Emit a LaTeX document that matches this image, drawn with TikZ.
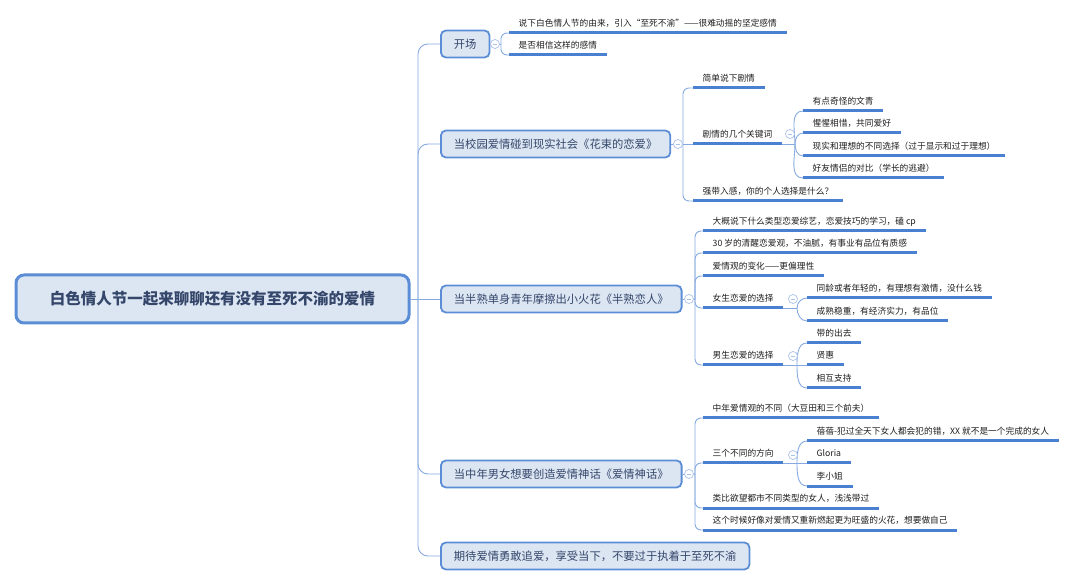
\documentclass[tikz,border=0pt]{standalone}
\usepackage{fontspec}
\setmainfont{Noto Sans CJK SC}
\usepackage{tikz}
\usetikzlibrary{positioning}

\definecolor{boxfill}{HTML}{DCE6F3}
\definecolor{boxline}{HTML}{5B8DD6}
\definecolor{ulinec}{HTML}{4A80D2}
\definecolor{linkc}{HTML}{86AADF}
\definecolor{foldc}{HTML}{A9C2EA}
\definecolor{txt}{HTML}{1E1E1E}
\definecolor{headc}{HTML}{34466A}

\begin{document}
\begin{tikzpicture}
    [
    x=1pt, y=-1pt,
    root/.style={draw=boxline, line width=3pt, fill=boxfill, rounded corners=8pt, minimum width=393pt, minimum height=48pt, font=\fontsize{15.5}{18}\selectfont\bfseries, text=headc},
    topic/.style={draw=boxline, line width=1.8pt, fill=boxfill, rounded corners=5pt, minimum height=27pt, inner xsep=13pt, anchor=west, font=\fontsize{11.3}{13}\selectfont, text=headc},
    uline/.style={draw=ulinec, line width=3pt},
    leaf/.style={anchor=south west, inner xsep=9.5pt, inner ysep=4.5pt, text height=7pt, text depth=1.5pt, font=\fontsize{8.7}{10}\selectfont, text=txt, append after command={(\tikzlastnode.south west) edge [uline] (\tikzlastnode.south east)}},
    link/.style={draw=linkc, line width=0.9pt, rounded corners=6pt},
    trunk/.style={link, rounded corners=10pt},
    fold/.style={circle, draw=foldc, fill=white, line width=0.7pt, minimum size=9pt, inner sep=0pt, path picture={\draw [foldc, line width=0.7pt] ([xshift=-2.3pt]path picture bounding box.center) -- ([xshift=2.3pt]path picture bounding box.center);}}
    ]
    \useasboundingbox (0,0) rectangle (1080,585);

    \node (root) at (212.5,299) [root] {白色情人节一起来聊聊还有没有至死不渝的爱情};

    \node (b1) at (440,44) [topic] {开场};
    \node (b2) at (440,144) [topic] {当校园爱情碰到现实社会《花束的恋爱》};
    \node (b3) at (440,299) [topic] {当半熟单身青年摩擦出小火花《半熟恋人》};
    \node (b4) at (440,474) [topic] {当中年男女想要创造爱情神话《爱情神话》};
    \node (b5) at (440,556) [topic] {期待爱情勇敢追爱，享受当下，不要过于执着于至死不渝};

    \coordinate (j0) at (418,299);
    \coordinate (j1) at (501,44);
    \coordinate (j2) at (683,144);
    \coordinate (j3) at (695,299);
    \coordinate (j4) at (695,474);

    \node (a1) at (509,33) [leaf] {说下白色情人节的由来，引入“至死不渝”——很难动摇的坚定感情};
    \node (a2) at (509,55) [leaf] {是否相信这样的感情};

    \node (c1) at (693,88) [leaf] {简单说下剧情};
    \node (c2) at (693,144) [leaf] {剧情的几个关键词};
    \node (c3) at (693,201) [leaf] {强带入感，你的个人选择是什么？};
    \coordinate (jc2) at (795,144);
    \node (k1) at (803,111) [leaf] {有点奇怪的文青};
    \node (k2) at (803,133) [leaf] {惺惺相惜，共同爱好};
    \node (k3) at (803,156) [leaf] {现实和理想的不同选择（过于显示和过于理想）};
    \node (k4) at (803,178) [leaf] {好友情侣的对比（学长的逃避）};

    \node (d1) at (703,231) [leaf] {大概说下什么类型恋爱综艺，恋爱技巧的学习，磕 cp};
    \node (d2) at (703,253) [leaf] {30 岁的清醒恋爱观，不油腻，有事业有品位有质感};
    \node (d3) at (703,276) [leaf] {爱情观的变化——更偏理性};
    \node (d4) at (703,308) [leaf] {女生恋爱的选择};
    \node (d5) at (703,365) [leaf] {男生恋爱的选择};
    \coordinate (jd4) at (797,308);
    \coordinate (jd5) at (797,365);
    \node (f1) at (807,298) [leaf] {同龄或者年轻的，有理想有激情，没什么钱};
    \node (f2) at (807,321) [leaf] {成熟稳重，有经济实力，有品位};
    \node (m1) at (807,343) [leaf] {带的出去};
    \node (m2) at (807,365) [leaf] {贤惠};
    \node (m3) at (807,388) [leaf] {相互支持};

    \node (e1) at (703,418) [leaf] {中年爱情观的不同（大豆田和三个前夫）};
    \node (e2) at (703,463) [leaf] {三个不同的方向};
    \node (e3) at (703,508) [leaf] {类比欲望都市不同类型的女人，浅浅带过};
    \node (e4) at (703,530) [leaf] {这个时候好像对爱情又重新燃起更为旺盛的火花，想要做自己};
    \coordinate (je2) at (797,463);
    \node (w1) at (807,441) [leaf] {蓓蓓-犯过全天下女人都会犯的错，XX 就不是一个完成的女人};
    \node (w2) at (807,463) [leaf] {Gloria};
    \node (w3) at (807,486) [leaf] {李小姐};

    \draw [link] (root.east) to (j0);
    \draw [trunk] (j0) |- (b1.west);
    \draw [trunk] (j0) |- (b2.west);
    \draw [trunk] (j0) to (b3.west);
    \draw [trunk] (j0) |- (b4.west);
    \draw [trunk] (j0) |- (b5.west);

    \draw [link] (b1.east) to (j1);
    \draw [link] (j1) |- (a1.south west);
    \draw [link] (j1) |- (a2.south west);

    \draw [link] (b2.east) to (j2);
    \draw [link] (j2) |- (c1.south west);
    \draw [link] (j2) to (c2.south west);
    \draw [link] (j2) |- (c3.south west);
    \draw [link] (c2.south east) to (jc2);
    \draw [link] (jc2) to[out=90,in=180] (k1.south west);
    \draw [link] (jc2) to[out=90,in=180] (k2.south west);
    \draw [link] (jc2) to[out=-90,in=180] (k3.south west);
    \draw [link] (jc2) to[out=-90,in=180] (k4.south west);

    \draw [link] (b3.east) to (j3);
    \draw [link] (j3) |- (d1.south west);
    \draw [link] (j3) |- (d2.south west);
    \draw [link] (j3) |- (d3.south west);
    \draw [link] (j3) |- (d4.south west);
    \draw [link] (j3) |- (d5.south west);
    \draw [link] (d4.south east) to (jd4);
    \draw [link] (jd4) to[out=90,in=180] (f1.south west);
    \draw [link] (jd4) to[out=-90,in=180] (f2.south west);
    \draw [link] (d5.south east) to (jd5);
    \draw [link] (jd5) to[out=90,in=180] (m1.south west);
    \draw [link] (jd5) to (m2.south west);
    \draw [link] (jd5) to[out=-90,in=180] (m3.south west);

    \draw [link] (b4.east) to (j4);
    \draw [link] (j4) |- (e1.south west);
    \draw [link] (j4) |- (e2.south west);
    \draw [link] (j4) |- (e3.south west);
    \draw [link] (j4) |- (e4.south west);
    \draw [link] (e2.south east) to (je2);
    \draw [link] (je2) to[out=90,in=180] (w1.south west);
    \draw [link] (je2) to (w2.south west);
    \draw [link] (je2) to[out=-90,in=180] (w3.south west);

    \node (o1) at (495,44) [fold] {};
    \node (o2) at (678,144) [fold] {};
    \node (o3) at (689,299) [fold] {};
    \node (o4) at (689,474) [fold] {};
    \node (oc2) at (790,134) [fold] {};
    \node (od4) at (793,299) [fold] {};
    \node (od5) at (793,356) [fold] {};
    \node (oe2) at (793,455) [fold] {};
\end{tikzpicture}
\end{document}
